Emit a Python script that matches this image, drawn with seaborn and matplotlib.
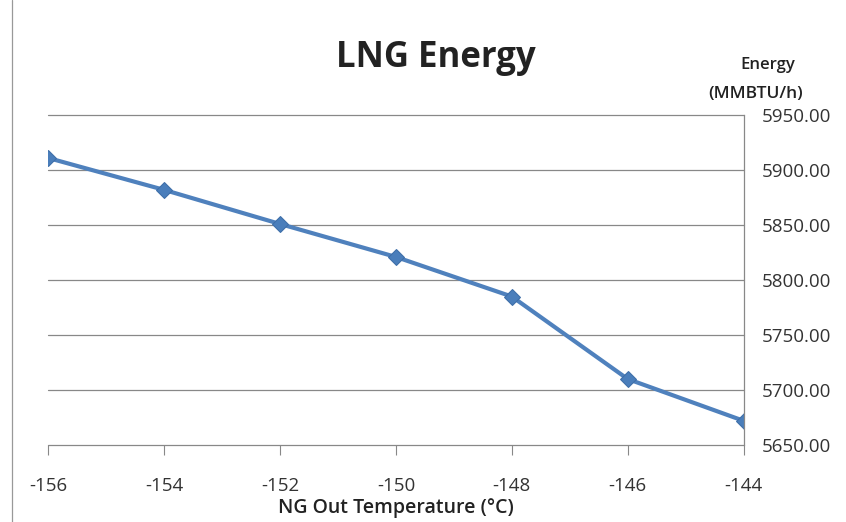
import matplotlib
matplotlib.use("Agg")
import matplotlib.pyplot as plt
import seaborn as sns
import pandas as pd

# values
temperature = [-156, -154, -152, -150, -148, -146, -144]
energy = [5911, 5882, 5851, 5821, 5785, 5710, 5672]
y_ticks = [5650, 5700, 5750, 5800, 5850, 5900, 5950]
x_ticks = [-156, -154, -152, -150, -148, -146, -144]

df = pd.DataFrame({"temp": temperature, "energy": energy})

sns.set_style("white")
plt.rcParams["font.family"] = ["Open Sans", "DejaVu Sans"]

fig = plt.figure(figsize=(8.46, 5.22), dpi=100)
ax = fig.add_axes([0.057, 0.1475, 0.822, 0.632])

sns.lineplot(data=df, x="temp", y="energy", ax=ax, color="#4F81BD",
             linewidth=3, marker="D", markersize=8,
             markerfacecolor="#4A7EBB", markeredgecolor="#3E6EA8")

ax.set_xlim(-156, -144)
ax.set_ylim(5650, 5950)
ax.set_xticks(x_ticks)
ax.set_xticklabels([str(t) for t in x_ticks], fontsize=13.5, color="#333333")
ax.set_yticks(y_ticks)
ax.set_yticklabels([f"{v:.2f}" for v in y_ticks], fontsize=13.5, color="#333333")
ax.yaxis.tick_right()
ax.tick_params(axis="y", length=0, pad=13)
ax.tick_params(axis="x", length=7, width=0.8, color="#888888", direction="out",
               pad=16, bottom=True)
ax.grid(axis="y", color="#888888", linewidth=0.9)
ax.grid(axis="x", visible=False)
for gl in ax.get_ygridlines():
    gl.set_clip_on(False)

for side in ["top", "left", "bottom"]:
    ax.spines[side].set_visible(False)
ax.spines["right"].set_color("#888888")
ax.spines["right"].set_linewidth(0.9)

ax.set_xlabel("NG Out Temperature (°C)", fontsize=14, fontweight="semibold",
              color="#222222", labelpad=2)
ax.set_ylabel("")
fig.text(0.515, 0.889, "LNG Energy", fontsize=25, fontweight="bold",
         color="#222222", ha="center", va="center")
fig.text(0.907, 0.875, "Energy", fontsize=12, fontweight="semibold",
         color="#222222", ha="center", va="center")
fig.text(0.893, 0.82, "(MMBTU/h)", fontsize=12.5, fontweight="semibold",
         color="#222222", ha="center", va="center")

# chart border on the left edge
fig.add_artist(plt.Line2D([0.014, 0.014], [0.0, 1.0], color="#999999",
                          linewidth=0.9, transform=fig.transFigure))

fig.savefig("out.png", dpi=100)
